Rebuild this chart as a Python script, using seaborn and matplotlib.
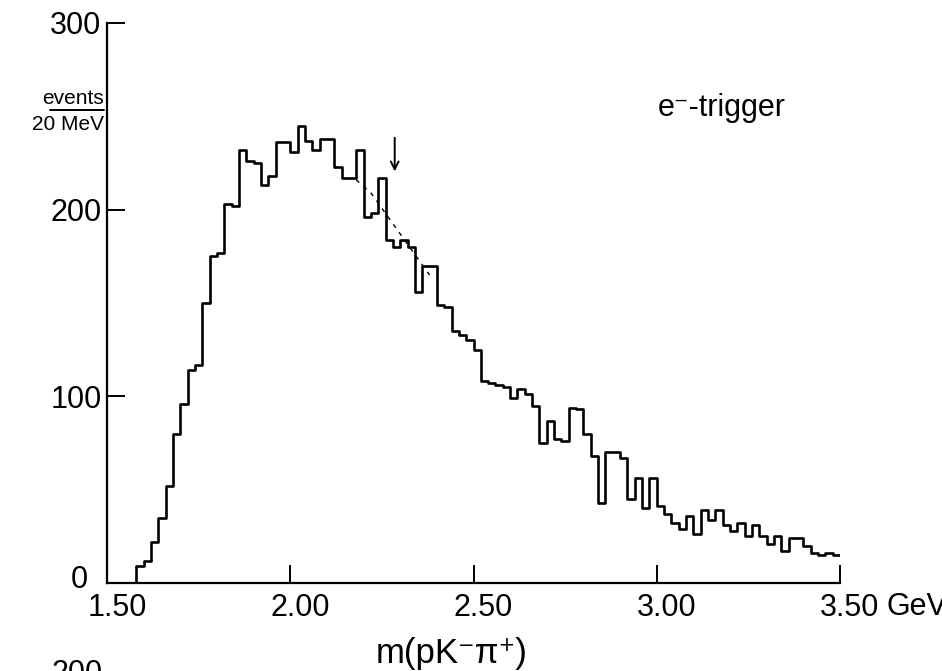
import numpy as np
import pandas as pd
import matplotlib
matplotlib.use("Agg")
import matplotlib.pyplot as plt
import matplotlib.transforms as mtransforms
from matplotlib.lines import Line2D
import seaborn as sns

# ---- data: e- trigger, events per 20 MeV bin from 1.50 to 3.50 GeV ----
MASS_LO = 1.50
BIN_WIDTH = 0.02
counts = [0, 0, 0, 0, 9, 12, 22, 35, 52, 80,
          96, 114, 117, 150, 175, 177, 203, 202, 232, 226,
          225, 213, 218, 236, 236, 231, 245, 237, 232, 238,
          238, 223, 217, 217, 232, 196, 198, 217, 184, 180,
          184, 180, 156, 170, 170, 149, 148, 135, 133, 130,
          125, 108, 107, 106, 105, 99, 104, 101, 95, 75,
          87, 77, 76, 94, 93, 80, 68, 43, 70, 70,
          67, 45, 56, 40, 56, 41, 37, 32, 29, 36,
          26, 39, 34, 39, 31, 28, 32, 25, 31, 25,
          21, 25, 17, 24, 24, 20, 16, 15, 16, 15]

# smooth background under the signal region (dashed)
bg_mass = [2.18, 2.22, 2.26, 2.30, 2.34, 2.38]
bg_events = [216, 209, 198, 187, 176, 165]

arrow_mass = 2.285
xticks = [1.50, 2.00, 2.50, 3.00, 3.50]
xtick_labels = ["1.50", "2.00", "2.50", "3.00", "3.50"]
yticks = [0, 100, 200, 300]

edges = [round(MASS_LO + BIN_WIDTH * i, 2) for i in range(len(counts) + 1)]
df = pd.DataFrame({"mass": [(a + b) / 2 for a, b in zip(edges[:-1], edges[1:])],
                   "events": counts})

# ---- style ----
sns.set_theme(style="ticks")
FONT = ["Liberation Sans Narrow", "Liberation Sans", "DejaVu Sans"]
plt.rcParams["font.family"] = FONT
plt.rcParams["font.stretch"] = "condensed"
plt.rcParams["text.color"] = "black"
plt.rcParams["axes.linewidth"] = 1.6

W, H = 942, 671
fig = plt.figure(figsize=(W / 100, H / 100), dpi=100)
ax = fig.add_axes([107 / W, 1 - 583 / H, (840 - 107) / W, (583 - 23) / H])

sns.histplot(data=df, x="mass", weights="events", bins=edges,
             element="step", fill=False, color="black", linewidth=1.9, ax=ax)
sns.lineplot(x=bg_mass, y=bg_events, ax=ax, color="black",
             linewidth=1.0, linestyle=(0, (3, 4)))

ax.annotate("", xy=(arrow_mass, 219), xytext=(arrow_mass, 240),
            arrowprops=dict(arrowstyle="->", color="black", lw=1.4,
                            mutation_scale=14))

ax.set_xlim(1.50, 3.50)
ax.set_ylim(0, 300)
ax.set_xticks(xticks)
ax.set_xticklabels(xtick_labels)
ax.set_yticks(yticks)
ax.set_xlabel("")
ax.set_ylabel("")
sns.despine(ax=ax)
for s in ["left", "bottom"]:
    ax.spines[s].set_color("black")

ax.tick_params(axis="both", direction="in", length=13, width=1.4,
               colors="black", labelsize=22)
ax.tick_params(axis="x", pad=7)
ax.tick_params(axis="y", pad=4)

# labels in the original sit a bit right of their ticks
shift = mtransforms.ScaledTranslation(10 / 100, 0, fig.dpi_scale_trans)
for lab in ax.get_xticklabels():
    lab.set_transform(lab.get_transform() + shift)
ylab0 = ax.get_yticklabels()[0]
ylab0.set_transform(ylab0.get_transform()
                    + mtransforms.ScaledTranslation(-14 / 100, 6 / 100, fig.dpi_scale_trans))

# ---- text ----
fig.text(886 / W, 1 - 607 / H, "GeV", fontsize=22, va="center", ha="left")
fig.text(452 / W, 1 - 653 / H, "m(pK\u207b\u03c0\u207a)", fontsize=25,
         ha="center", va="center")
fig.text(104 / W, 1 - 99 / H, "events", fontsize=15, ha="right", va="center")
fig.add_artist(Line2D([50 / W, 104 / W], [1 - 110 / H, 1 - 110 / H],
                      color="black", lw=1.4))
fig.text(104 / W, 1 - 125 / H, "20 MeV", fontsize=15, ha="right", va="center")
fig.text(658 / W, 1 - 108 / H, "e\u207b-trigger", fontsize=22, ha="left",
         va="center")
fig.text(103 / W, 1 - 674 / H, "200", fontsize=22, ha="right", va="center")

fig.savefig("out.png", dpi=100)
